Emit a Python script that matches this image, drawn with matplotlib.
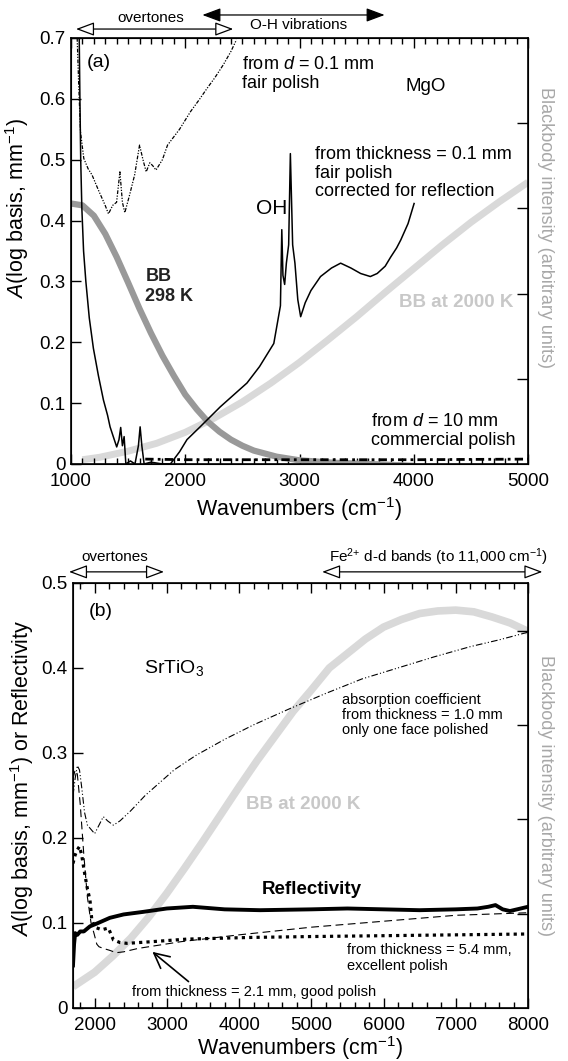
import matplotlib
matplotlib.use('Agg')
import matplotlib.pyplot as plt
from matplotlib.ticker import MultipleLocator, FuncFormatter

plt.rcParams['font.family'] = ['Liberation Sans', 'DejaVu Sans']
plt.rcParams['mathtext.fontset'] = 'custom'
plt.rcParams['mathtext.rm'] = 'Liberation Sans'
plt.rcParams['mathtext.it'] = 'Liberation Sans:italic'
plt.rcParams['mathtext.bf'] = 'Liberation Sans:bold'

# ---------------- panel (a) MgO ----------------
bb298_x = [1000, 1100, 1200, 1300, 1400, 1500, 1600, 1700, 1800, 1900, 2000, 2100, 2200,
           2300, 2400, 2500, 2600, 2800, 3000, 3300, 3600, 4000]
bb298_y = [0.428, 0.425, 0.408, 0.378, 0.34, 0.298, 0.255, 0.215, 0.178, 0.145, 0.114, 0.09,
           0.069, 0.053, 0.04, 0.03, 0.022, 0.012, 0.006, 0.002, 0.0, -0.003]

bb2000a_x = [1100, 1250, 1500, 1750, 2000, 2250, 2500, 2750, 3000, 3250, 3500, 3750, 4000,
             4250, 4500, 4750, 5000]
bb2000a_y = [0.007, 0.011, 0.021, 0.034, 0.052, 0.075, 0.102, 0.133, 0.167, 0.204, 0.242,
             0.282, 0.321, 0.36, 0.397, 0.431, 0.463]

thin_x = [1054, 1068, 1083, 1100, 1112, 1150, 1184, 1240, 1299, 1328, 1365, 1399, 1428, 1450,
          1471, 1510, 1557, 1600, 1630, 1658, 1690, 1716, 1744, 1800, 1845, 1950, 2046, 2120,
          2190, 2260, 2333, 2400, 2448]
thin_y = [0.7, 0.62, 0.546, 0.52, 0.502, 0.485, 0.475, 0.45, 0.425, 0.411, 0.425, 0.43, 0.48,
          0.43, 0.413, 0.44, 0.475, 0.524, 0.5, 0.48, 0.495, 0.49, 0.483, 0.5, 0.524, 0.55,
          0.579, 0.598, 0.617, 0.635, 0.656, 0.678, 0.697]

corr_x = [1072, 1078, 1085, 1095, 1110, 1130, 1160, 1196, 1240, 1284, 1320, 1342, 1370, 1400,
          1420, 1435, 1450, 1465, 1480, 1520, 1560, 1590, 1605, 1620, 1640, 1700, 1800, 1870,
          1950, 2015, 2130, 2307, 2540, 2650, 2775, 2833, 2845, 2855, 2870, 2885, 2905, 2920,
          2928, 2940, 2960, 2985, 3010, 3050, 3100, 3184, 3280, 3360, 3450, 3535, 3620, 3680,
          3750, 3798, 3850, 3886, 3950, 4003]
corr_y = [0.7, 0.6, 0.5, 0.42, 0.35, 0.3, 0.24, 0.19, 0.145, 0.105, 0.08, 0.061, 0.045, 0.028,
          0.04, 0.06, 0.03, 0.045, 0.0, 0.005, 0.0, 0.03, 0.061, 0.03, 0.0, 0.003, 0.0, 0.0,
          0.02, 0.04, 0.061, 0.094, 0.133, 0.16, 0.198, 0.26, 0.385, 0.31, 0.295, 0.33, 0.36,
          0.51, 0.45, 0.36, 0.33, 0.27, 0.242, 0.265, 0.285, 0.308, 0.322, 0.33, 0.322, 0.313,
          0.308, 0.313, 0.325, 0.34, 0.355, 0.368, 0.395, 0.428]

thick_x = [1650, 2000, 3000, 4000, 5000]
thick_y = [0.008, 0.007, 0.007, 0.007, 0.008]

# ---------------- panel (b) SrTiO3 ----------------
bb2000b_x = [1700, 2000, 2250, 2500, 2750, 3000, 3250, 3500, 3750, 4000, 4250, 4500, 4750,
             5000, 5250, 5500, 5750, 6000, 6250, 6500, 6750, 7000, 7250, 7500, 7750, 8000]
bb2000b_y = [0.025, 0.042, 0.061, 0.082, 0.107, 0.135, 0.165, 0.196, 0.228, 0.26, 0.291,
             0.32, 0.349, 0.374, 0.4, 0.417, 0.434, 0.448, 0.457, 0.464, 0.467, 0.468, 0.466,
             0.46, 0.453, 0.443]

abs_x = [1700, 1730, 1760, 1790, 1820, 1860, 1900, 1950, 2000, 2060, 2120, 2180, 2260, 2350,
         2500, 2700, 2900, 3100, 3400, 3800, 4200, 4700, 5200, 5700, 6200, 6700, 7200, 7600, 8000]
abs_y = [0.25, 0.27, 0.285, 0.28, 0.26, 0.23, 0.215, 0.21, 0.205, 0.215, 0.225, 0.22, 0.215,
         0.22, 0.232, 0.25, 0.265, 0.28, 0.297, 0.316, 0.333, 0.352, 0.37, 0.387, 0.4, 0.413,
         0.425, 0.433, 0.442]

refl_x = [1700, 1715, 1730, 1760, 1800, 1850, 1935, 2050, 2210, 2400, 2670, 3000, 3360, 3800,
          4290, 5000, 5500, 6000, 6500, 7000, 7300, 7450, 7550, 7650, 7750, 7850, 7950, 8000]
refl_y = [0.05, 0.075, 0.088, 0.086, 0.09, 0.09, 0.096, 0.1, 0.106, 0.11, 0.113, 0.117, 0.119,
          0.116, 0.115, 0.116, 0.117, 0.116, 0.115, 0.116, 0.117, 0.119, 0.121, 0.116, 0.114,
          0.116, 0.118, 0.119]

t54_x = [1700, 1730, 1760, 1790, 1820, 1860, 1900, 1935, 1960, 2000, 2100, 2190, 2260, 2350,
         2450, 2800, 3280, 4190, 5000, 6000, 7000, 8000]
t54_y = [0.17, 0.18, 0.186, 0.19, 0.18, 0.159, 0.14, 0.127, 0.104, 0.095, 0.092, 0.094, 0.08,
         0.077, 0.076, 0.078, 0.081, 0.083, 0.084, 0.085, 0.086, 0.087]

t21_x = [1700, 1730, 1760, 1800, 1850, 1900, 1950, 1990, 2030, 2060, 2120, 2200, 2300, 2400,
         2600, 3200, 4000, 5000, 6000, 7000, 8000]
t21_y = [0.27, 0.28, 0.275, 0.24, 0.18, 0.13, 0.1, 0.088, 0.075, 0.072, 0.07, 0.068, 0.065,
         0.066, 0.07, 0.078, 0.086, 0.095, 0.102, 0.109, 0.112]

fig = plt.figure(figsize=(5.68, 10.61), dpi=100)
ax1 = fig.add_axes([0.125, 0.5627, 0.8046, 0.4015])
ax2 = fig.add_axes([0.1285, 0.05, 0.801, 0.4006])

light = '#d9d9d9'
mid = '#999999'
lab_gray = '#a8a8a8'


def fmt(v, pos):
    return '0' if abs(v) < 1e-9 else '%.1f' % v


def style_axes(ax, minor):
    ax.xaxis.set_minor_locator(MultipleLocator(minor))
    ax.xaxis.set_major_locator(MultipleLocator(1000))
    ax.yaxis.set_major_locator(MultipleLocator(0.1))
    ax.yaxis.set_major_formatter(FuncFormatter(fmt))
    ax.tick_params(which='major', direction='in', length=7, width=1, labelsize=13.5,
                   top=True, bottom=True, left=True, right=False, pad=4)
    ax.tick_params(axis='x', which='major', pad=6.5)
    ax.tick_params(which='minor', direction='in', length=4, width=1, top=True, bottom=True)
    ax.tick_params(axis='y', which='minor', left=False, right=False)
    for s in ax.spines.values():
        s.set_linewidth(1.2)


def right_axis(ax, ticks, ypos):
    r = ax.twinx()
    r.set_ylim(0, 1)
    r.set_yticks(ticks)
    r.tick_params(direction='in', length=8, width=1, labelright=False)
    r.set_ylabel('Blackbody intensity (arbitrary units)', color=lab_gray, fontsize=13,
                 rotation=270)
    r.yaxis.set_label_coords(1.057, ypos)
    return r


def top_arrow(ax, x0, x1, y, fill):
    ax.annotate('', xy=(x0, y), xytext=(x1, y), xycoords=ax.get_xaxis_transform(),
                textcoords=ax.get_xaxis_transform(), annotation_clip=False,
                arrowprops=dict(arrowstyle='<|-|>,head_length=0.75,head_width=0.28', fc=fill,
                                ec='black', lw=0.9, mutation_scale=15, shrinkA=0, shrinkB=0))


# ---- panel (a)
ax1.plot(bb2000a_x, bb2000a_y, color=light, lw=5, solid_capstyle='butt', zorder=1)
ax1.plot(bb298_x, bb298_y, color=mid, lw=4.5, solid_capstyle='butt', zorder=2)
ax1.plot(thin_x, thin_y, color='black', lw=0.9, ls=(0, (3, 1.2, 1, 1.2, 1, 1.2)), zorder=3)
ax1.plot(corr_x, corr_y, color='black', lw=1.1, zorder=4)
ax1.plot(thick_x, thick_y, color='black', lw=2, ls=(0, (3, 1.5, 1, 1.5)), zorder=4)
ax1.set_xlim(1000, 5000)
ax1.set_ylim(0, 0.7)
style_axes(ax1, 100)
ax1.set_xlabel('Wavenumbers (cm$^{-1}$)', fontsize=15.5)
ax1.xaxis.set_label_coords(0.5, -0.072)
ax1.set_ylabel('$A$(log basis, mm$^{-1}$)', fontsize=15.5)
ax1.yaxis.set_label_coords(-0.088, 0.6)
right_axis(ax1, [0.2, 0.4, 0.6, 0.8], 0.556)

ax1.text(1140, 0.659, '(a)', fontsize=14, va='center')
ax1.text(2500, 0.641, 'from $d$ = 0.1 mm\nfair polish', fontsize=13, va='center',
         linespacing=1.15)
ax1.text(4105, 0.62, 'MgO', fontsize=13.5, va='center', ha='center')
ax1.text(3136, 0.478, 'from thickness = 0.1 mm\nfair polish\ncorrected for reflection',
         fontsize=13, va='center', linespacing=1.1)
ax1.text(2760, 0.42, 'OH', fontsize=15, va='center', ha='center')
ax1.text(1650, 0.292, 'BB\n298 K', fontsize=13, fontweight='bold', color='#222222',
         va='center', linespacing=1.25)
ax1.text(3870, 0.265, 'BB at 2000 K', fontsize=13.5, fontweight='bold', color='#c8c8c8',
         va='center')
ax1.text(3630, 0.054, 'from $d$ = 10 mm\ncommercial polish', fontsize=13, va='center',
         linespacing=1.1)

top_arrow(ax1, 1044, 2420, 1.021, 'white')
top_arrow(ax1, 2150, 3745, 1.054, 'black')
ax1.text(1700, 1.047, 'overtones', transform=ax1.get_xaxis_transform(), fontsize=11,
         ha='center', va='center')
ax1.text(2990, 1.03, 'O-H vibrations', transform=ax1.get_xaxis_transform(), fontsize=11,
         ha='center', va='center')

# ---- panel (b)
ax2.plot(bb2000b_x, bb2000b_y, color=light, lw=5.5, solid_capstyle='butt', zorder=1)
ax2.plot(abs_x, abs_y, color='black', lw=0.8, ls=(0, (6, 2, 1, 2, 1, 2)), zorder=3)
ax2.plot(t21_x, t21_y, color='black', lw=0.8, ls=(0, (7, 4)), zorder=3)
ax2.plot(t54_x, t54_y, color='black', lw=2.3, ls=(0, (1, 1.3)), dash_capstyle='butt', zorder=4)
ax2.plot(refl_x, refl_y, color='black', lw=2.8, zorder=5)
ax2.set_xlim(1700, 8000)
ax2.set_ylim(0, 0.5)
style_axes(ax2, 200)
ax2.set_xlabel('Wavenumbers (cm$^{-1}$)', fontsize=15.5)
ax2.xaxis.set_label_coords(0.5, -0.062)
ax2.set_ylabel('$A$(log basis, mm$^{-1}$) or Reflectivity', fontsize=15.5)
ax2.yaxis.set_label_coords(-0.081, 0.54)
right_axis(ax2, [0.222, 0.444, 0.666, 0.888], 0.5)

ax2.text(1920, 0.466, '(b)', fontsize=14, va='center')
ax2.text(3100, 0.4, 'SrTiO$_3$', fontsize=14, va='center', ha='center')
ax2.text(5430, 0.345, 'absorption coefficient\nfrom thickness = 1.0 mm\nonly one face polished',
         fontsize=10.5, va='center', linespacing=1.1)
ax2.text(4100, 0.239, 'BB at 2000 K', fontsize=13.5, fontweight='bold', color='#c8c8c8',
         va='center')
ax2.text(5000, 0.139, 'Reflectivity', fontsize=13.5, fontweight='bold', va='center',
         ha='center')
ax2.text(5490, 0.059, 'from thickness = 5.4 mm,\nexcellent polish', fontsize=10.5,
         va='center', linespacing=1.15)
ax2.text(2520, 0.019, 'from thickness = 2.1 mm, good polish', fontsize=10.5, va='center')
ax2.annotate('', xy=(2800, 0.066), xytext=(3300, 0.031),
             arrowprops=dict(arrowstyle='->,head_length=0.6,head_width=0.3', lw=1.2,
                             color='black', mutation_scale=18, shrinkA=0, shrinkB=0))

top_arrow(ax2, 1645, 2960, 1.026, 'white')
top_arrow(ax2, 5150, 8200, 1.026, 'white')
ax2.text(2280, 1.061, 'overtones', transform=ax2.get_xaxis_transform(), fontsize=11,
         ha='center', va='center')
ax2.text(6760, 1.061, 'Fe$^{2{+}}$ d-d bands (to 11,000 cm$^{-1}$)',
         transform=ax2.get_xaxis_transform(), fontsize=11, ha='center', va='center')

fig.savefig('out.png', dpi=100)
